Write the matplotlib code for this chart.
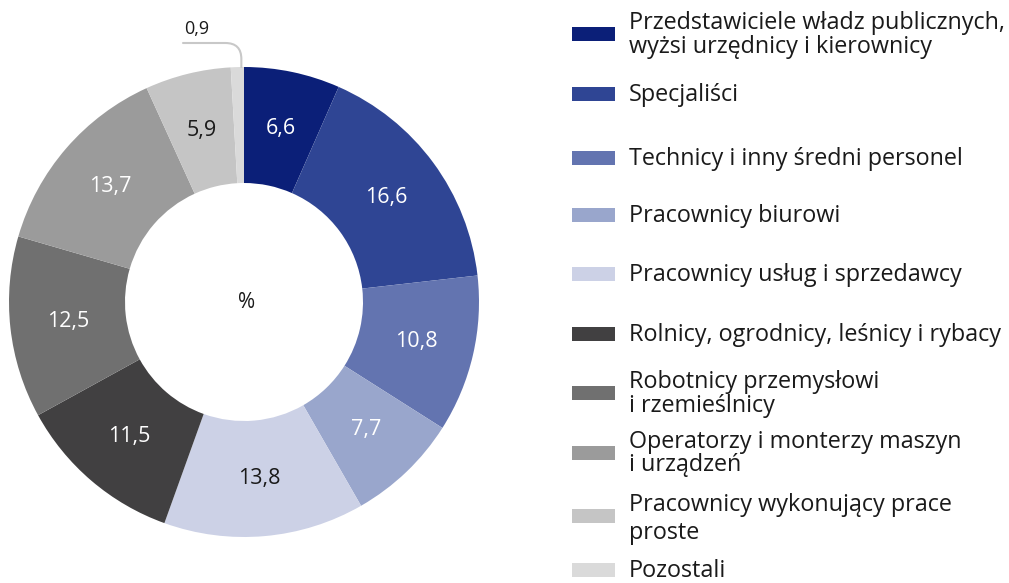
import matplotlib
matplotlib.use("Agg")
import numpy as np
import matplotlib.pyplot as plt
from matplotlib.patches import Rectangle

plt.rcParams['font.family'] = ['Open Sans', 'DejaVu Sans']

# dane
categories = [
    "Przedstawiciele władz publicznych,\nwyżsi urzędnicy i kierownicy",
    "Specjaliści",
    "Technicy i inny średni personel",
    "Pracownicy biurowi",
    "Pracownicy usług i sprzedawcy",
    "Rolnicy, ogrodnicy, leśnicy i rybacy",
    "Robotnicy przemysłowi\ni rzemieślnicy",
    "Operatorzy i monterzy maszyn\ni urządzeń",
    "Pracownicy wykonujący prace\nproste",
    "Pozostali",
]
values = [6.6, 16.6, 10.8, 7.7, 13.8, 11.5, 12.5, 13.7, 5.9, 0.9]
value_labels = ["6,6", "16,6", "10,8", "7,7", "13,8", "11,5", "12,5", "13,7", "5,9", "0,9"]
colors = ["#0b1f78", "#2f4594", "#6374b0", "#99a6cc", "#ccd1e6",
          "#414041", "#707070", "#9b9b9b", "#c5c5c5", "#dadada"]
text_colors = ["white", "white", "white", "white", "#1a1a1a",
               "white", "white", "white", "#1a1a1a", "#1a1a1a"]

W, H = 1009, 583
fig = plt.figure(figsize=(W / 100, H / 100), dpi=100)
ax = fig.add_axes([0, 0, 1, 1])

cx, cy = 244, H - 302
R, ring = 235, 116

wedges, _ = ax.pie(values, radius=R, center=(cx, cy), startangle=90, counterclock=False,
                   colors=colors, wedgeprops=dict(width=ring, linewidth=0), frame=True)
ax.set_xlim(0, W)
ax.set_ylim(0, H)
ax.set_aspect('equal')
ax.axis('off')

# etykiety wartości
r_lab = R - ring / 2
for w, lab, tc in zip(wedges[:-1], value_labels[:-1], text_colors[:-1]):
    a = np.deg2rad((w.theta1 + w.theta2) / 2)
    ax.text(cx + r_lab * np.cos(a), cy + r_lab * np.sin(a), lab, ha='center', va='center',
            fontsize=15.5, color=tc)

# mała wartość z linią odniesienia
last = wedges[-1]
a = np.deg2rad((last.theta1 + last.theta2) / 2)
px, py = cx + R * np.cos(a), cy + R * np.sin(a)
ax.annotate('', xy=(px + 4, py), xytext=(183, H - 43),
            arrowprops=dict(arrowstyle='-', color='#c8c8c8', lw=1.5, shrinkA=0, shrinkB=0,
                            connectionstyle='angle,angleA=0,angleB=90,rad=16'))
ax.text(184, H - 34, value_labels[-1], ha='left', va='baseline', fontsize=13, color='#1a1a1a')

ax.text(cx + 3, cy, "%", ha='center', va='center', fontsize=15, color='#1a1a1a')

# legenda
sw_y = [34, 94, 158, 215, 274, 334, 393, 453, 516, 570]
gap2 = [24, 24, 24, 24, 24, 24, 24, 23, 28, 24]
for lab, col, yc, g in zip(categories, colors, sw_y, gap2):
    ax.add_patch(Rectangle((572, H - yc - 7), 43, 14, color=col, lw=0))
    lines = lab.split("\n")
    if len(lines) == 1:
        ax.text(629, H - yc - 7, lines[0], fontsize=16.8, color='#1a1a1a', va='baseline')
    else:
        ax.text(629, H - yc + 5, lines[0], fontsize=16.8, color='#1a1a1a', va='baseline')
        ax.text(629, H - yc + 5 - g, lines[1], fontsize=16.8, color='#1a1a1a', va='baseline')

fig.savefig("out.png", dpi=100)
